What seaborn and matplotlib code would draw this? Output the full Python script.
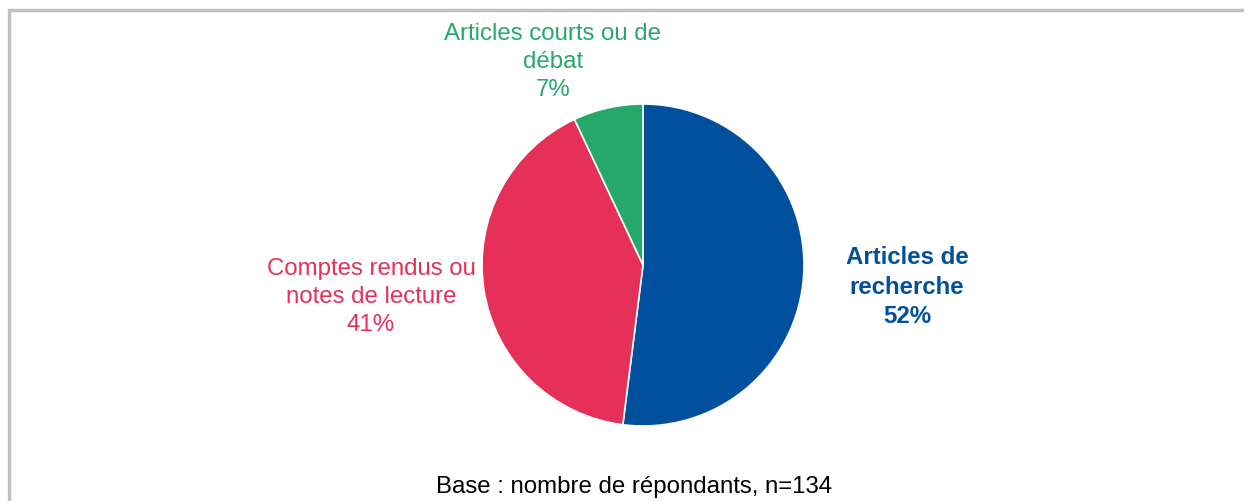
import matplotlib
matplotlib.use("Agg")
import matplotlib.pyplot as plt
import seaborn as sns

# data
categories = ["Articles de\nrecherche", "Comptes rendus ou\nnotes de lecture", "Articles courts ou de\ndébat"]
shares = [52, 41, 7]
colors = ["#00509E", "#E63057", "#25A86A"]

sns.set_theme(style="white")
plt.rcParams['font.family'] = ['Liberation Sans', 'DejaVu Sans']

W, H = 1244, 501
fig = plt.figure(figsize=(W / 100, H / 100), dpi=100)
ax = fig.add_axes([0, 0, 1, 1])

# pie, starting at 12 o'clock and going clockwise
ax.pie(shares, colors=colors, startangle=90, counterclock=False,
       center=(643, H - 265), radius=161, frame=True,
       wedgeprops=dict(linewidth=1.2, edgecolor="white"))
ax.set_xlim(0, W)
ax.set_ylim(0, H)
ax.set_aspect("equal")
ax.axis("off")

# labels
label_pos = [(907, 287), (371, 297), (553, 62)]
weights = ["bold", "normal", "normal"]
for cat, val, col, (x, y), w in zip(categories, shares, colors, label_pos, weights):
    ax.text(x, H - y, f"{cat}\n{val}%", color=col, fontsize=17.3, fontweight=w,
            ha="center", va="center", linespacing=1.36)

ax.text(634, H - 487, "Base : nombre de répondants, n=134", fontsize=17.3,
        color="black", ha="center", va="center")

# grey frame (top and left edges)
ax.plot([9, W + 5], [H - 10, H - 10], color="#BFBFBF", lw=2.5, clip_on=False)
ax.plot([9, 9], [H - 10, -5], color="#BFBFBF", lw=2.5, clip_on=False)

fig.savefig("out.png", dpi=100)
